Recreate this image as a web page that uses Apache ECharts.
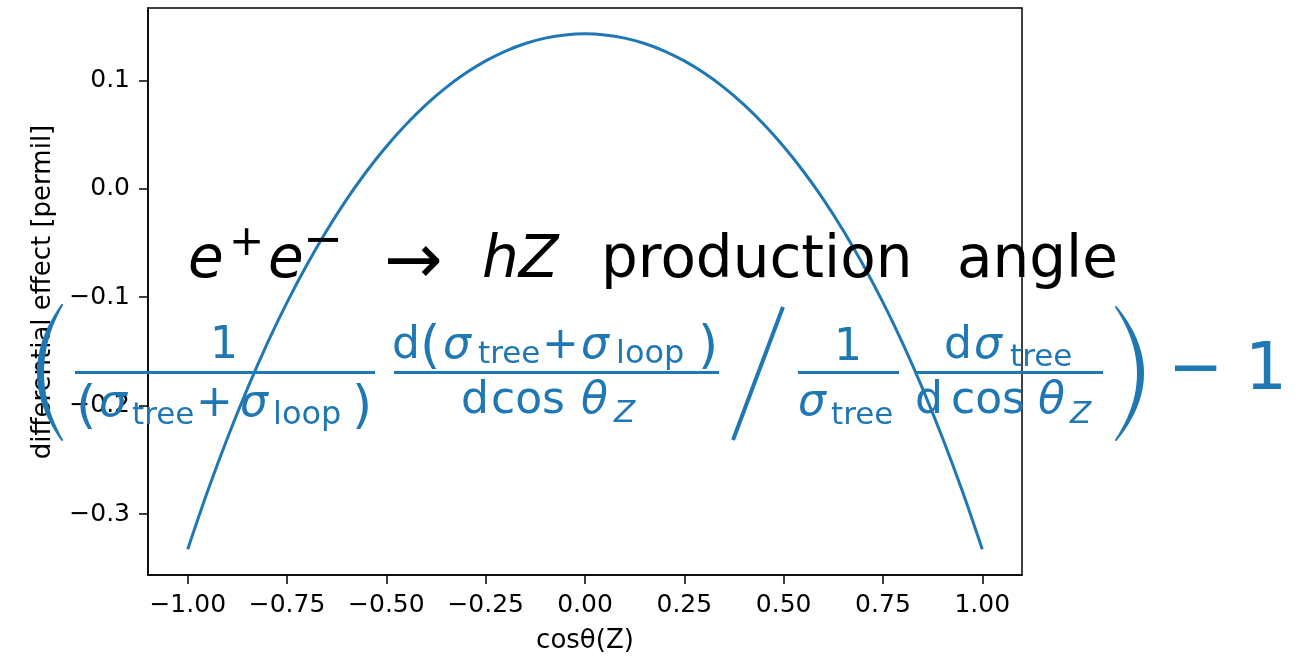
<!DOCTYPE html>
<html><head><meta charset="utf-8">
<script src="https://cdn.jsdelivr.net/npm/echarts@6/dist/echarts.min.js"></script>
<style>html,body{margin:0;padding:0;background:#fff}#c{width:1301px;height:659px}</style>
</head><body><div id="c"></div>
<script>
// ---- data ----
const cosTheta = [-1.00,-0.95,-0.90,-0.85,-0.80,-0.75,-0.70,-0.65,-0.60,-0.55,-0.50,-0.45,-0.40,-0.35,-0.30,-0.25,-0.20,-0.15,-0.10,-0.05,
  0.00,0.05,0.10,0.15,0.20,0.25,0.30,0.35,0.40,0.45,0.50,0.55,0.60,0.65,0.70,0.75,0.80,0.85,0.90,0.95,1.00];
const diffEffect = [-0.3324,-0.2790,-0.2298,-0.1845,-0.1428,-0.1048,-0.0700,-0.0384,-0.0097,0.0160,0.0391,0.0596,0.0777,0.0934,0.1068,0.1180,0.1271,0.1341,0.1390,0.1420,
  0.1430,0.1420,0.1390,0.1341,0.1271,0.1180,0.1068,0.0934,0.0777,0.0596,0.0391,0.0160,-0.0097,-0.0384,-0.0700,-0.1048,-0.1428,-0.1845,-0.2298,-0.2790,-0.3324];
const xTicks = [-1.00,-0.75,-0.50,-0.25,0.00,0.25,0.50,0.75,1.00];
const yTicks = [-0.3,-0.2,-0.1,0.0,0.1];
const xLabel = 'cosθ(Z)';
const yLabel = 'differential effect [permil]';

// ---- styling ----
const BLUE = '#1f77b4';
const FONT = '"DejaVu Sans"';
const fmt = (v, d) => (v < -1e-9 ? '\u2212' : '') + Math.abs(v).toFixed(d);

function T(text, x, base, size, color, italic, align) {
  return {
    type: 'text', x: x, y: base - 0.3 * size, z: 100,
    style: { text: text, fill: color, fontSize: size, fontFamily: FONT,
      fontStyle: italic ? 'italic' : 'normal', align: align || 'left', verticalAlign: 'middle' }
  };
}
function L(x1, y1, x2, y2, w) {
  return { type: 'line', z: 100, shape: { x1: x1, y1: y1, x2: x2, y2: y2 }, style: { stroke: BLUE, lineWidth: w || 3 } };
}
// crescent-shaped big parenthesis: ends (xe, y1)/(xe, y2), outer/inner control x
function paren(xe, y1, y2, cOuter, cInner) {
  const pts = [];
  const ym = (y1 + y2) / 2;
  const q = (t, c) => [(1 - t) * (1 - t) * xe + 2 * t * (1 - t) * c + t * t * xe, (1 - t) * (1 - t) * y1 + 2 * t * (1 - t) * ym + t * t * y2];
  for (let i = 0; i <= 24; i++) pts.push(q(i / 24, cOuter));
  for (let i = 24; i >= 0; i--) pts.push(q(i / 24, cInner));
  return { type: 'polygon', z: 100, shape: { points: pts }, style: { fill: BLUE, stroke: BLUE, lineWidth: 2, lineJoin: 'round' } };
}

const K = '#000';
const titleParts = [
  T('e', 188, 279, 58, K, true), T('+', 229, 257, 42, K), T('e', 268, 279, 58, K, true), T('\u2212', 303, 257, 48, K),
  T('\u2192', 384, 286, 70, K), T('hZ', 482, 279, 58, K, true), T('production', 601, 279, 58, K), T('angle', 957, 279, 58, K)
];
const formulaParts = [
  // fraction 1
  T('1', 224, 360, 44, BLUE, false, 'center'), L(75, 372.5, 375, 372.5),
  T('(', 76, 424, 52, BLUE), T('σ', 99, 418, 44, BLUE, true), T('tree', 132, 425, 31, BLUE),
  T('+', 196, 418, 44, BLUE), T('σ', 240, 418, 44, BLUE, true), T('loop', 273, 425, 32, BLUE), T(')', 352, 424, 52, BLUE),
  // fraction 2
  T('d', 392, 360, 44, BLUE), T('(', 420, 364, 52, BLUE), T('σ', 443, 360, 44, BLUE, true), T('tree', 478, 364, 31, BLUE),
  T('+', 542, 360, 44, BLUE), T('σ', 581, 360, 44, BLUE, true), T('loop', 616, 364, 32, BLUE), T(')', 698, 364, 52, BLUE),
  L(394, 372.5, 719, 372.5),
  T('d', 461, 415, 44, BLUE), T('cos', 491, 415, 44, BLUE), T('θ', 581, 415, 44, BLUE, true), T('Z', 614, 423, 31, BLUE, true),
  // slash
  L(783, 307, 733, 440, 4),
  // fraction 3
  T('1', 848, 362, 44, BLUE, false, 'center'), L(798, 372.5, 899, 372.5),
  T('σ', 798, 417, 44, BLUE, true), T('tree', 831, 425, 31, BLUE),
  // fraction 4
  T('d', 944, 360, 44, BLUE), T('σ', 974, 360, 44, BLUE, true), T('tree', 1010, 367, 31, BLUE),
  L(916, 372.5, 1103, 372.5),
  T('d', 915, 415, 44, BLUE), T('cos', 951, 415, 44, BLUE), T('θ', 1038, 415, 44, BLUE, true), T('Z', 1070, 424, 31, BLUE, true),
  // big parens and -1
  paren(62, 305, 440, 14, 24),
  paren(1116, 307, 440, 1170, 1160),
  T('\u2212', 1168, 392, 66, BLUE), T('1', 1245, 392, 66, BLUE)
];
const axisTexts = [
  { type: 'text', x: 585, y: 641, z: 50, style: { text: xLabel, fill: K, fontSize: 26, fontFamily: FONT, align: 'center', verticalAlign: 'middle' } },
  { type: 'text', x: 43, y: 292, z: 50, rotation: Math.PI / 2, style: { text: yLabel, fill: K, fontSize: 26, fontFamily: FONT, align: 'center', verticalAlign: 'middle' } }
];

const chart = echarts.init(document.getElementById('c'), null, { renderer: 'canvas' });
chart.setOption({
  animation: false,
  backgroundColor: '#fff',
  grid: { left: 148, right: 279, top: 8, bottom: 84, show: true, borderColor: '#000', borderWidth: 1.5, backgroundColor: 'transparent' },
  xAxis: {
    type: 'value', min: -1.1, max: 1.1,
    splitLine: { show: false },
    axisLine: { show: true, onZero: false, lineStyle: { color: '#000', width: 1.5 } },
    axisTick: { show: true, customValues: xTicks, length: 9, lineStyle: { color: '#000', width: 1.5 } },
    axisLabel: { customValues: xTicks, formatter: v => fmt(v, 2), color: '#000', fontSize: 25, fontFamily: FONT, margin: 18 }
  },
  yAxis: {
    type: 'value', min: -0.3562, max: 0.1668,
    splitLine: { show: false },
    axisLine: { show: true, onZero: false, lineStyle: { color: '#000', width: 1.5 } },
    axisTick: { show: true, customValues: yTicks, length: 9, lineStyle: { color: '#000', width: 1.5 } },
    axisLabel: { customValues: yTicks, formatter: v => fmt(v, 1), color: '#000', fontSize: 25, fontFamily: FONT, margin: 18 }
  },
  series: [{
    type: 'line', data: cosTheta.map((x, i) => [x, diffEffect[i]]),
    showSymbol: false, smooth: 0.3, lineStyle: { color: BLUE, width: 3 }, z: 3
  }],
  graphic: { elements: axisTexts.concat(titleParts, formulaParts) }
});
</script></body></html>
